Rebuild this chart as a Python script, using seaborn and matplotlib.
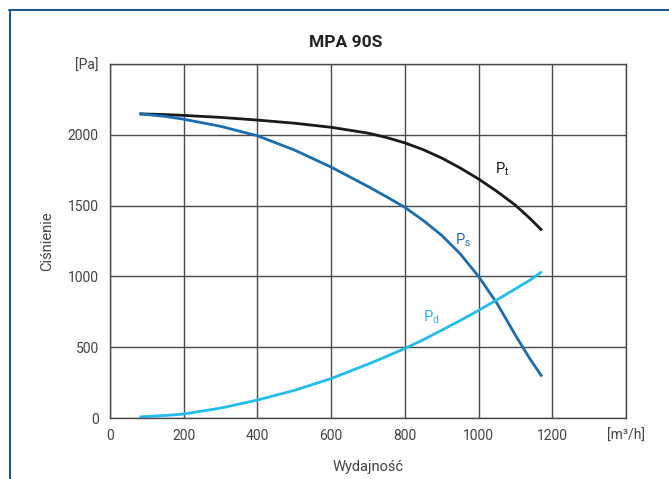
import matplotlib
matplotlib.use("Agg")
import matplotlib.pyplot as plt
import seaborn as sns
import pandas as pd
from matplotlib.lines import Line2D

# curve data (airflow m3/h -> pressure Pa)
flow = [80, 150, 200, 300, 400, 500, 600, 700, 750, 800, 850, 900, 950,
        1000, 1050, 1100, 1140, 1172]
p_total = [2148, 2143, 2137, 2123, 2104, 2082, 2053, 2012, 1981, 1943, 1895, 1836,
           1766, 1688, 1600, 1503, 1408, 1325]
p_static = [2148, 2130, 2110, 2060, 1993, 1893, 1772, 1635, 1563, 1488, 1395, 1290,
            1160, 1000, 810, 585, 415, 293]
p_dyn = [8, 18, 28, 70, 127, 195, 279, 380, 435, 491, 553, 620, 688,
         760, 835, 912, 975, 1033]

x_ticks = [0, 200, 400, 600, 800, 1000, 1200, 1400]
x_labels = ["0", "200", "400", "600", "800", "1000", "1200", "[m³/h]"]
y_ticks = [0, 500, 1000, 1500, 2000, 2500]
y_labels = ["0", "500", "1000", "1500", "2000", "[Pa]"]

sns.set_theme(style="white")
plt.rcParams["font.family"] = ["Roboto", "DejaVu Sans"]

df = pd.DataFrame({"flow": flow, "Pt": p_total, "Ps": p_static, "Pd": p_dyn})

fig = plt.figure(figsize=(6.69, 4.79), dpi=100)
ax = fig.add_axes([0.1644, 0.1273, 0.9357 - 0.1644, 0.8664 - 0.1273])

line_kw = dict(linewidth=2, solid_joinstyle="round", solid_capstyle="butt")
sns.lineplot(data=df, x="flow", y="Pt", ax=ax, color="#1a1a1a", **line_kw)
sns.lineplot(data=df, x="flow", y="Ps", ax=ax, color="#1a6db3", **line_kw)
sns.lineplot(data=df, x="flow", y="Pd", ax=ax, color="#1fbdf0", **line_kw)

ax.set_xlim(0, 1400)
ax.set_ylim(0, 2500)
ax.set_xticks(x_ticks)
ax.set_xticklabels(x_labels)
ax.set_yticks(y_ticks)
ax.set_yticklabels(y_labels)
ax.tick_params(axis="both", labelsize=10, colors="#4a4a4a", length=4,
               width=1, direction="out", pad=4)
ax.tick_params(axis="both", labelcolor="#444444")
ax.grid(True, color="#4a4a4a", linewidth=1)
for s in ax.spines.values():
    s.set_color("#4a4a4a")
    s.set_linewidth(1)

ax.set_xlabel("Wydajność", fontsize=10.5, color="#444444", labelpad=12)
ax.set_ylabel("Ciśnienie", fontsize=10.5, color="#444444", labelpad=10)
ax.set_title("MPA 90S", fontsize=12.5, fontweight="bold", color="#222222",
             pad=12, x=0.457)

# curve labels
ax.text(1045, 1730, "P$_\\mathregular{t}$", color="#1a1a1a", fontsize=10.5)
ax.text(935, 1230, "P$_\\mathregular{s}$", color="#1a6db3", fontsize=10.5)
ax.text(850, 680, "P$_\\mathregular{d}$", color="#1fbdf0", fontsize=10.5)

# blue frame on the left and top
fig.add_artist(Line2D([9.5 / 669, 9.5 / 669], [0, 1 - 10 / 479],
                      transform=fig.transFigure, color="#1f5a8c", linewidth=1.5))
fig.add_artist(Line2D([9 / 669, 1], [1 - 10 / 479, 1 - 10 / 479],
                      transform=fig.transFigure, color="#1f5a8c", linewidth=1.5))

fig.savefig("out.png", dpi=100)
